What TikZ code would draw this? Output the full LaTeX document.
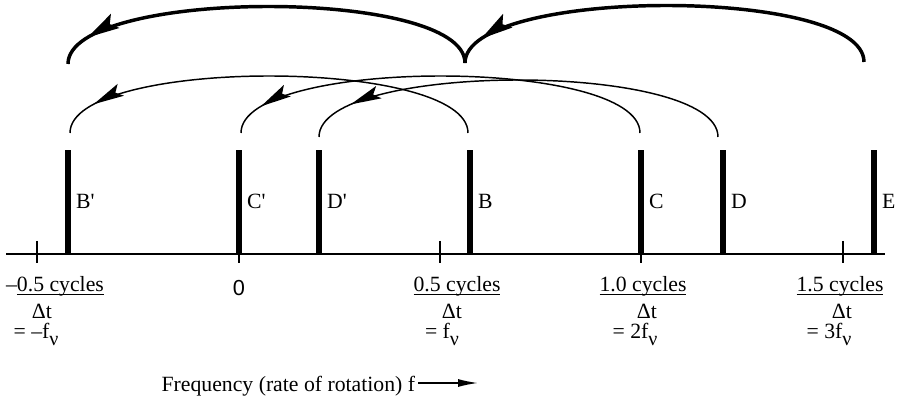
\documentclass[tikz,border=0pt]{standalone}
\usepackage{fontspec}
\setmainfont{Liberation Serif}
\newfontfamily\zerofont{Liberation Sans}
\usetikzlibrary{arrows.meta,decorations.markings,positioning}
\newcommand{\fnu}{f\raisebox{-5pt}{\fontsize{15}{15}\selectfont ν}}
\newcommand{\cyc}[1]{\setbox0\hbox{#1}\rlap{\rule[-2.2pt]{\wd0}{0.8pt}}\box0}
\newcommand{\dart}[2]{\fill (0pt,0pt) -- (-#1,#2*#1) -- (-0.8*#1,0pt) -- (-#1,-#2*#1) -- cycle;}
\tikzset{
  bar/.style={
    inner sep = 0pt,
    minimum width = 4.5pt,
    minimum height = 78pt,
    anchor = south,
    fill
  },
  tickmark/.style={
    line width = 1.5pt
  },
  aliasarc/.style={
    line width = 1.1pt,
    postaction = decorate,
    decoration = {markings, mark=at position #1 with {\dart{23pt}{0.22}}}
  },
  bigarc/.style={
    line width = 2.6pt,
    postaction = decorate,
    decoration = {markings, mark=at position #1 with {\dart{24pt}{0.26}}}
  },
  every picture/.style = {
    font=\fontsize{16.3}{19}\selectfont
  },
  every label/.style = {
    inner sep = 1pt,
    label distance = 2.5pt
  },
  cycles/.style={
    anchor = base,
    inner sep = 1pt
  }
}
\begin{document}
\begin{tikzpicture}[x=0.75pt,y=-0.75pt]
  \useasboundingbox (0,0) rectangle (897,398);
  \draw[line width=1.2pt] (6,254) -- (885,254);
  \draw[tickmark] (37,241) -- (37,263);
  \draw[tickmark] (239,241) -- (239,263);
  \draw[tickmark] (440,241) -- (440,263);
  \draw[tickmark] (641,241) -- (641,263);
  \draw[tickmark] (843,241) -- (843,263);
  \node[bar, label=right:B\textquotesingle] (Bp) at (68,254) {};
  \node[bar, label=right:C\textquotesingle] (Cp) at (239,254) {};
  \node[bar, label=right:D\textquotesingle] (Dp) at (319,254) {};
  \node[bar, label=right:B] (B) at (470,254) {};
  \node[bar, label=right:C] (C) at (641,254) {};
  \node[bar, label=right:D] (D) at (723,254) {};
  \node[bar, label=right:E] (E) at (874,254) {};
  \coordinate (b0) at (70,133);
  \coordinate (b1) at (468,133);
  \coordinate (c0) at (241,133);
  \coordinate (c1) at (640,133);
  \coordinate (d0) at (319,137);
  \coordinate (d1) at (718,137);
  \coordinate (a0) at (68,64);
  \coordinate (v) at (465,63);
  \coordinate (e1) at (864,62);
  \draw[aliasarc=0.91] (b1) .. controls +(0,-76) and +(0,-76) .. (b0);
  \draw[aliasarc=0.92] (c1) .. controls +(0,-76) and +(0,-76) .. (c0);
  \draw[aliasarc=0.89] (d1) .. controls +(0,-76) and +(0,-76) .. (d0);
  \draw[bigarc=0.92] (v) .. controls +(0,-76) and +(0,-76) .. (a0);
  \draw[bigarc=0.93] (e1) .. controls +(0,-76) and +(0,-76) .. (v);
  \node[cycles] (m1) at (55,292) {–\cyc{0.5 cycles}};
  \node[cycles] (m1dt) at (42,319) {Δt};
  \node[cycles] (m1f) at (36,339) {= –\fnu};
  \node[cycles] (zero) at (239,296) {\zerofont 0};
  \node[cycles] (p1) at (457,292) {\cyc{0.5 cycles}};
  \node[cycles] (p1dt) at (452,319) {Δt};
  \node[cycles] (p1f) at (442,339) {= \fnu};
  \node[cycles] (p2) at (643,292) {\cyc{1.0 cycles}};
  \node[cycles] (p2dt) at (647,319) {Δt};
  \node[cycles] (p2f) at (635,339) {= 2\fnu};
  \node[cycles] (p3) at (840,292) {\cyc{1.5 cycles}};
  \node[cycles] (p3dt) at (842,319) {Δt};
  \node[cycles] (p3f) at (829,339) {= 3\fnu};
  \node[cycles, anchor=base west] (freq) at (160,392) {Frequency (rate of rotation) f};
  \coordinate (fa) at (418,383);
  \coordinate (fb) at (478,383);
  \draw[line width=1.1pt, -{Latex[length=15pt,width=6pt]}] (fa) -- (fb);
\end{tikzpicture}
\end{document}
